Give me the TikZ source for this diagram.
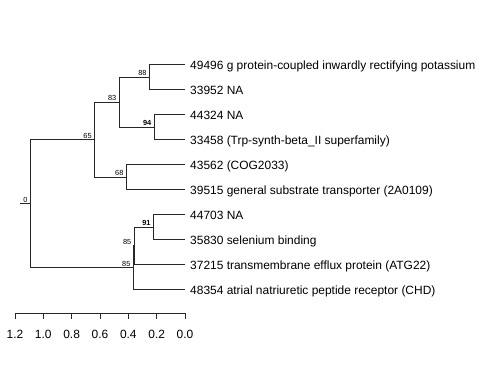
\documentclass[tikz,border=0pt]{standalone}
\usepackage{fontspec}
\setmainfont{Liberation Sans}
\tikzset{
  branch/.style={line width=0.8bp, draw=black!85},
  boot/.style={font=\fontsize{7.4}{8}\selectfont, text=black, inner sep=0pt,
    anchor=south east, xshift=-2.5bp, yshift=1.2bp},
  bootbold/.style={boot, font=\fontsize{7.4}{8}\selectfont\bfseries},
  tip/.style={font=\fontsize{12}{14}\selectfont, inner sep=0pt, anchor=base west,
    xshift=5bp, yshift=-5.4bp},
  ticklab/.style={font=\fontsize{12}{14}\selectfont, inner sep=0pt}
}
\begin{document}
\begin{tikzpicture}[x=1bp,y=-1bp]
 \useasboundingbox (0,0) rectangle (480,384);
 % TREE: x = distance from the tips, y = leaf row
 \begin{scope}[xshift=185bp, yshift=-39.5bp, x=-141.7bp, y=-25bp]
  \coordinate (l1) at (0,1);
  \coordinate (l2) at (0,2);
  \coordinate (l3) at (0,3);
  \coordinate (l4) at (0,4);
  \coordinate (l5) at (0,5);
  \coordinate (l6) at (0,6);
  \coordinate (l7) at (0,7);
  \coordinate (l8) at (0,8);
  \coordinate (l9) at (0,9);
  \coordinate (l10) at (0,10);
  \coordinate (n88) at (0.252,1.5);
  \coordinate (n94) at (0.219,3.5);
  \coordinate (n83) at (0.466,2.5);
  \coordinate (n68) at (0.416,5.5);
  \coordinate (n65) at (0.640,4);
  \coordinate (n91) at (0.224,7.5);
  \coordinate (n85a) at (0.360,8.25);
  \coordinate (n85b) at (0.366,9.125);
  \coordinate (root) at (1.092,6.5625);
  \coordinate (stub) at (1.164,6.5625);
  % branches
  \draw[branch] (stub) -- (root);
  \draw[branch] (root) |- (n65);
  \draw[branch] (root) |- (n85b);
  \draw[branch] (n65) |- (n83);
  \draw[branch] (n65) |- (n68);
  \draw[branch] (n83) |- (n88);
  \draw[branch] (n83) |- (n94);
  \draw[branch] (n88) |- (l1);
  \draw[branch] (n88) |- (l2);
  \draw[branch] (n94) |- (l3);
  \draw[branch] (n94) |- (l4);
  \draw[branch] (n68) |- (l5);
  \draw[branch] (n68) |- (l6);
  \draw[branch] (n85b) |- (n85a);
  \draw[branch] (n85b) |- (l10);
  \draw[branch] (n85a) |- (n91);
  \draw[branch] (n85a) |- (l9);
  \draw[branch] (n91) |- (l7);
  \draw[branch] (n91) |- (l8);
  % support values
  \node[boot] (b0) at (root) {0};
  \node[boot] (b65) at (n65) {65};
  \node[boot] (b83) at (n83) {83};
  \node[boot] (b88) at (n88) {88};
  \node[bootbold] (b94) at (n94) {94};
  \node[boot] (b68) at (n68) {68};
  \node[bootbold] (b91) at (n91) {91};
  \node[boot] (b85a) at (n85a) {85};
  \node[boot] (b85b) at (n85b) {85};
  % leaf names
  \node[tip] (t1) at (l1) {49496 g protein-coupled inwardly rectifying potassium};
  \node[tip] (t2) at (l2) {33952 NA};
  \node[tip] (t3) at (l3) {44324 NA};
  \node[tip] (t4) at (l4) {33458 (Trp-synth-beta\_II superfamily)};
  \node[tip] (t5) at (l5) {43562 (COG2033)};
  \node[tip] (t6) at (l6) {39515 general substrate transporter (2A0109)};
  \node[tip] (t7) at (l7) {44703 NA};
  \node[tip] (t8) at (l8) {35830 selenium binding};
  \node[tip] (t9) at (l9) {37215 transmembrane efflux protein (ATG22)};
  \node[tip] (t10) at (l10) {48354 atrial natriuretic peptide receptor (CHD)};
 \end{scope}
 % AXIS: branch length scale
 \begin{scope}[xshift=185bp, x=-141.7bp]
  \draw[branch] (1.2,313) -- (0,313);
  \draw[branch] (1.2,313) -- (1.2,318.5);
  \draw[branch] (1.0,313) -- (1.0,318.5);
  \draw[branch] (0.8,313) -- (0.8,318.5);
  \draw[branch] (0.6,313) -- (0.6,318.5);
  \draw[branch] (0.4,313) -- (0.4,318.5);
  \draw[branch] (0.2,313) -- (0.2,318.5);
  \draw[branch] (0.0,313) -- (0.0,318.5);
  \node[ticklab] (a12) at (1.2,334) {1.2};
  \node[ticklab] (a10) at (1.0,334) {1.0};
  \node[ticklab] (a08) at (0.8,334) {0.8};
  \node[ticklab] (a06) at (0.6,334) {0.6};
  \node[ticklab] (a04) at (0.4,334) {0.4};
  \node[ticklab] (a02) at (0.2,334) {0.2};
  \node[ticklab] (a00) at (0.0,334) {0.0};
 \end{scope}
\end{tikzpicture}
\end{document}
